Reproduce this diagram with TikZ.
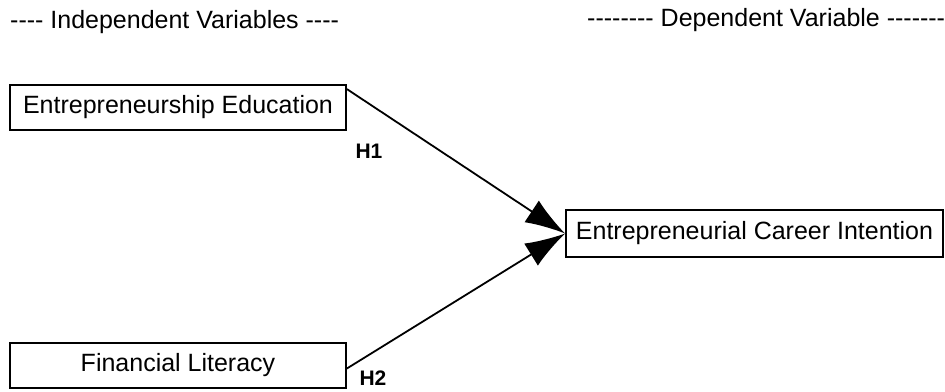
\documentclass[tikz,border=0pt]{standalone}
\usepackage{fontspec}
\setmainfont{Liberation Sans}
\usetikzlibrary{arrows.meta}

\begin{document}
\begin{tikzpicture}
            [
                x=1pt, y=-1pt,
                varbox/.style={draw, line width=1.8pt, minimum height=45pt, inner sep=0pt,
                    font=\fontsize{25}{29}\selectfont},
                heading/.style={anchor=west, inner sep=0pt, font=\fontsize{25}{29}\selectfont},
                hyp/.style={inner sep=0pt, font=\fontsize{21}{24}\selectfont\bfseries},
                path/.style={line width=1.8pt, -{Latex[length=40pt,width=26pt]}}
            ]
            \useasboundingbox (0,0) rectangle (945,391);
            % headings
            \node[heading] (indep) at (10,22) {-{}-{}-{}- Independent Variables -{}-{}-{}-};
            \node[heading] (dep) at (587,20) {-{}-{}-{}-{}-{}-{}-{}- Dependent Variable -{}-{}-{}-{}-{}-{}-};
            % variables
            \node[varbox, minimum width=336pt] (edu) at (178,107.5) {Entrepreneurship Education};
            \node[varbox, minimum width=336pt] (fin) at (178,365.5) {Financial Literacy};
            \node[varbox, minimum width=377pt, minimum height=47pt] (career) at (754.5,233.5)
                {Entrepreneurial Career Intention};
            % hypotheses
            \draw[path] ([yshift=-5pt]edu.north east) -- (career.west);
            \draw[path] ([yshift=-3pt]fin.east) -- (career.west);
            \node[hyp] (h1) at (369,151) {H1};
            \node[hyp] (h2) at (373,378) {H2};
        \end{tikzpicture}
\end{document}
